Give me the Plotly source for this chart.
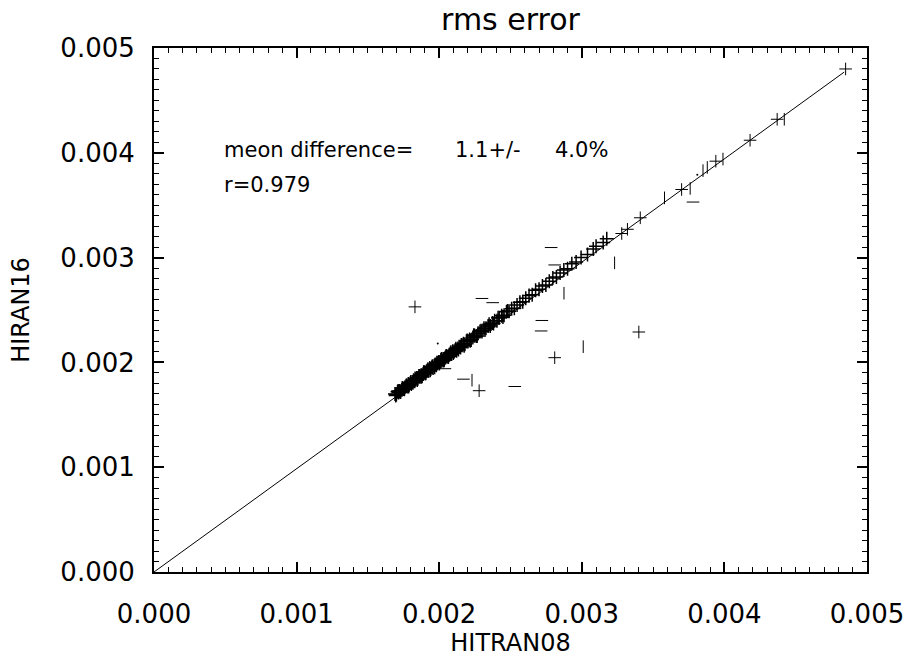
import plotly.graph_objects as go

# ---- data (HITRAN08 vs HIRAN16 rms error) ----
cluster_x = [0.001690, 0.001700, 0.001708, 0.001715, 0.001722, 0.001730, 0.001738, 0.001745, 0.001752, 0.001760,
             0.001768, 0.001775, 0.001783, 0.001790, 0.001798, 0.001805, 0.001812, 0.001820, 0.001828, 0.001835,
             0.001843, 0.001850, 0.001858, 0.001866, 0.001873, 0.001880, 0.001888, 0.001896, 0.001903, 0.001911,
             0.001918, 0.001926, 0.001934, 0.001941, 0.001949, 0.001957, 0.001965, 0.001972, 0.001980, 0.001988,
             0.001996, 0.002004, 0.002012, 0.002020, 0.002028, 0.002036, 0.002044, 0.002052, 0.002061, 0.002070,
             0.002078, 0.002087, 0.002095, 0.002104, 0.002113, 0.002122, 0.002131, 0.002140, 0.002150, 0.002160,
             0.002170, 0.002180, 0.002191, 0.002202, 0.002213, 0.002224, 0.002236, 0.002248, 0.002260, 0.002273,
             0.002286, 0.002300, 0.002314, 0.002328, 0.002343, 0.002358, 0.002373, 0.002389, 0.002405, 0.002421,
             0.002438, 0.002455, 0.002472, 0.002490, 0.002508, 0.002527, 0.002546, 0.002566, 0.002586, 0.002607,
             0.002630, 0.002652, 0.002676, 0.002700, 0.002724, 0.002748, 0.002772, 0.002797, 0.002822, 0.002848,
             0.002874, 0.002900, 0.002930, 0.002960, 0.002995, 0.003040, 0.003080, 0.003100, 0.003150, 0.003175]
cluster_y = [0.001698, 0.001694, 0.001720, 0.001712, 0.001727, 0.001720, 0.001740, 0.001754, 0.001745, 0.001764,
             0.001776, 0.001769, 0.001795, 0.001787, 0.001803, 0.001795, 0.001814, 0.001829, 0.001821, 0.001839,
             0.001851, 0.001844, 0.001870, 0.001863, 0.001878, 0.001870, 0.001890, 0.001905, 0.001896, 0.001915,
             0.001926, 0.001920, 0.001946, 0.001938, 0.001954, 0.001947, 0.001967, 0.001981, 0.001973, 0.001992,
             0.002004, 0.001998, 0.002024, 0.002017, 0.002033, 0.002026, 0.002046, 0.002061, 0.002054, 0.002074,
             0.002086, 0.002081, 0.002107, 0.002101, 0.002118, 0.002112, 0.002133, 0.002149, 0.002143, 0.002164,
             0.002178, 0.002174, 0.002203, 0.002199, 0.002218, 0.002214, 0.002238, 0.002257, 0.002253, 0.002277,
             0.002294, 0.002294, 0.002326, 0.002325, 0.002348, 0.002348, 0.002375, 0.002398, 0.002398, 0.002425,
             0.002446, 0.002449, 0.002484, 0.002487, 0.002513, 0.002517, 0.002548, 0.002575, 0.002579, 0.002611,
             0.002638, 0.002646, 0.002688, 0.002697, 0.002729, 0.002738, 0.002774, 0.002806, 0.002815, 0.002852,
             0.002882, 0.002894, 0.002942, 0.002957, 0.003000, 0.003030, 0.003082, 0.003109, 0.003143, 0.003179]

# additional points in the dense part of the band
band_x = [0.001695, 0.001712, 0.001726, 0.001741, 0.001756, 0.001771, 0.001786, 0.001801, 0.001816, 0.001831,
          0.001846, 0.001861, 0.001876, 0.001891, 0.001906, 0.001921, 0.001937, 0.001952, 0.001968, 0.001984,
          0.002000, 0.002016, 0.002032, 0.002048, 0.002065, 0.002082, 0.002099, 0.002117, 0.002135, 0.002155,
          0.002175, 0.002196, 0.002218, 0.002242, 0.002266, 0.002293, 0.002321, 0.002350, 0.002381, 0.002413,
          0.002447, 0.002480]
band_y = [0.001683, 0.001727, 0.001717, 0.001755, 0.001743, 0.001782, 0.001771, 0.001814, 0.001805, 0.001847,
          0.001832, 0.001871, 0.001864, 0.001906, 0.001897, 0.001935, 0.001924, 0.001963, 0.001953, 0.001997,
          0.001989, 0.002032, 0.002018, 0.002058, 0.002053, 0.002097, 0.002090, 0.002131, 0.002122, 0.002166,
          0.002160, 0.002209, 0.002207, 0.002258, 0.002252, 0.002303, 0.002309, 0.002365, 0.002372, 0.002427,
          0.002434, 0.002491]

plus_x = [0.00183, 0.00340, 0.00281, 0.00228, 0.00328, 0.00332, 0.00341, 0.00370, 0.00394, 0.00418, 0.00437, 0.00485]
plus_y = [0.00253, 0.00229, 0.002045, 0.00173, 0.00323, 0.00327, 0.00338, 0.00365, 0.00392, 0.00412, 0.00432, 0.00480]

dash_x = [0.002785, 0.00281, 0.00230, 0.002375, 0.00272, 0.002715, 0.00204, 0.00217, 0.00253, 0.00378]
dash_y = [0.003096, 0.00293, 0.00261, 0.00257, 0.00240, 0.00230, 0.00194, 0.00184, 0.00177, 0.00353]

bar_x = [0.00323, 0.002875, 0.00301, 0.00223, 0.00358, 0.00376, 0.00385, 0.00388, 0.00399, 0.00442]
bar_y = [0.00295, 0.00266, 0.00215, 0.00183, 0.00357, 0.00366, 0.00383, 0.00386, 0.00394, 0.00432]

dot_x = [0.00199, 0.00381]
dot_y = [0.00218, 0.00379]

fit_x = [0.0, 0.00484]
fit_y = [0.0, 0.00477]

tick_vals = [0.000, 0.001, 0.002, 0.003, 0.004, 0.005]
tick_text = ["0.000", "0.001", "0.002", "0.003", "0.004", "0.005"]

FONT = "DejaVu Sans"
fig = go.Figure()

fig.add_trace(go.Scatter(x=fit_x, y=fit_y, mode="lines", line=dict(color="black", width=1)))
fig.add_trace(go.Scatter(x=cluster_x, y=cluster_y, mode="markers",
                         marker=dict(symbol="cross-thin", size=10, line=dict(color="black", width=1.5))))
fig.add_trace(go.Scatter(x=band_x, y=band_y, mode="markers",
                         marker=dict(symbol="cross-thin", size=10, line=dict(color="black", width=1.5))))
fig.add_trace(go.Scatter(x=plus_x, y=plus_y, mode="markers",
                         marker=dict(symbol="cross-thin", size=9, line=dict(color="black", width=1))))
fig.add_trace(go.Scatter(x=dash_x, y=dash_y, mode="markers",
                         marker=dict(symbol="line-ew", size=9, line=dict(color="black", width=1))))
fig.add_trace(go.Scatter(x=bar_x, y=bar_y, mode="markers",
                         marker=dict(symbol="line-ns", size=9, line=dict(color="black", width=1))))
fig.add_trace(go.Scatter(x=dot_x, y=dot_y, mode="markers",
                         marker=dict(symbol="circle", size=2, color="black")))

axis_common = dict(
    range=[0, 0.005], tickvals=tick_vals, ticktext=tick_text,
    ticks="inside", ticklen=10, tickwidth=1.5, tickcolor="black",
    showline=True, linecolor="black", linewidth=2, mirror="ticks",
    showgrid=False, zeroline=False,
    tickfont=dict(family=FONT, size=26, color="black"),
    minor=dict(dtick=0.0001, ticks="inside", ticklen=5, tickwidth=1, tickcolor="black"),
)

fig.update_xaxes(**axis_common, ticklabelstandoff=18,
                 title=dict(text="HITRAN08", font=dict(family=FONT, size=24, color="black"), standoff=6))
fig.update_yaxes(**axis_common, ticklabelstandoff=12,
                 title=dict(text="HIRAN16", font=dict(family=FONT, size=24, color="black"), standoff=24))

ANN = dict(family=FONT, size=21, color="black")
fig.add_annotation(x=0.000480, y=0.004024, xref="x", yref="y", text="meon difference=",
                   showarrow=False, xanchor="left", yanchor="middle", font=ANN)
fig.add_annotation(x=0.002100, y=0.004024, xref="x", yref="y", text="1.1+/-",
                   showarrow=False, xanchor="left", yanchor="middle", font=ANN)
fig.add_annotation(x=0.002800, y=0.004024, xref="x", yref="y", text="4.0%",
                   showarrow=False, xanchor="left", yanchor="middle", font=ANN)
fig.add_annotation(x=0.000480, y=0.003690, xref="x", yref="y", text="r=0.979",
                   showarrow=False, xanchor="left", yanchor="middle", font=ANN)

fig.update_layout(
    width=916, height=664,
    margin=dict(l=154, r=40, t=48, b=83),
    paper_bgcolor="white", plot_bgcolor="white",
    showlegend=False,
    title=dict(text="rms error", x=0.5, xref="paper", xanchor="center", y=0.97, yanchor="middle",
               font=dict(family=FONT, size=30, color="black")),
)

fig.write_html("out.html")
